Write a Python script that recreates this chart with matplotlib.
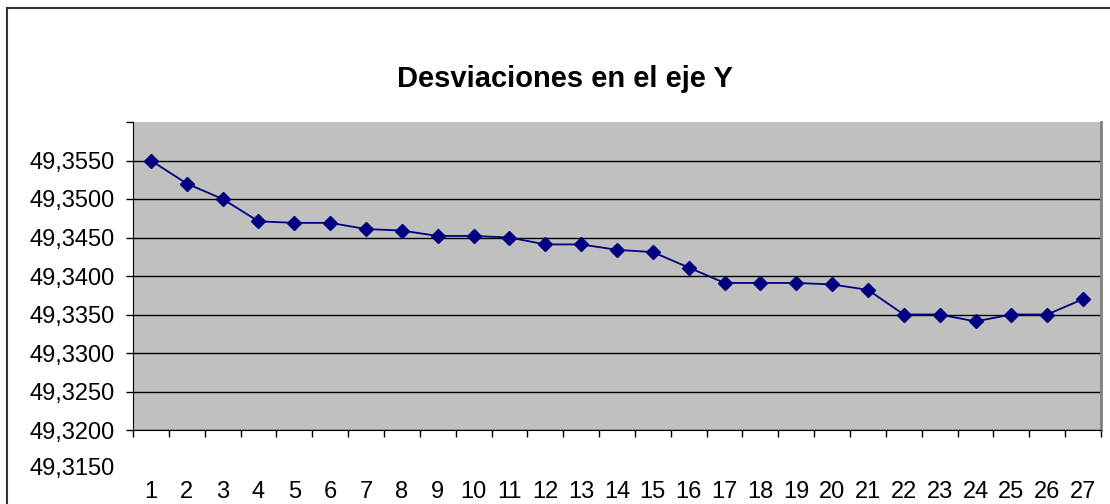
import numpy as np
import matplotlib
matplotlib.use("Agg")
import matplotlib.pyplot as plt
from matplotlib.patches import Rectangle

plt.rcParams['font.family'] = ['Liberation Sans', 'DejaVu Sans']

# data
puntos = list(range(1, 28))
desv_y = [49.3550, 49.3520, 49.3500, 49.3471, 49.3469, 49.3469, 49.3461, 49.3459,
          49.3452, 49.3452, 49.3450, 49.3441, 49.3441, 49.3434, 49.3431, 49.3411,
          49.3391, 49.3391, 49.3391, 49.3389, 49.3382, 49.3350, 49.3350, 49.3341,
          49.3350, 49.3350, 49.3370]
yticks = [49.320, 49.325, 49.330, 49.335, 49.340, 49.345, 49.350, 49.355]
ylabels = ['49,3200', '49,3250', '49,3300', '49,3350', '49,3400', '49,3450', '49,3500', '49,3550']

fig = plt.figure(figsize=(11.1, 5.04), dpi=100)
fig.patches.append(Rectangle((7/1110, -0.1), 1.2, 1 - 8/504 + 0.1,
                             transform=fig.transFigure, fill=False,
                             edgecolor='#333333', lw=1.5))

ax = fig.add_axes([133/1110, 1 - 430/504, 968/1110, 308/504])
ax.set_facecolor('#c0c0c0')

ax.set_ylim(49.320, 49.360)
ax.set_yticks(yticks)
ax.set_yticklabels(ylabels)
ax.set_yticks([49.360], minor=True)
ax.yaxis.grid(True, which='major', color='black', lw=1)
ax.set_axisbelow(True)
ax.tick_params(axis='y', which='both', length=5, width=1, pad=8, labelsize=17)
ax.annotate('49,3150', xy=(0, 49.315), xycoords=('axes fraction', 'data'),
            xytext=(-13, 0), textcoords='offset points', ha='right', va='center',
            fontsize=17, annotation_clip=False)

ax.set_xlim(0.5, 27.5)
ax.set_xticks(puntos)
ax.set_xticklabels([str(p) for p in puntos])
ax.set_xticks(np.arange(0.5, 28, 1), minor=True)
ax.tick_params(axis='x', which='major', length=0, pad=37, labelsize=17)
ax.tick_params(axis='x', which='minor', length=5, width=1)

for s in ['left', 'bottom']:
    ax.spines[s].set_color('black')
ax.spines['right'].set_color('#808080')
ax.spines['right'].set_linewidth(2)
ax.spines['top'].set_visible(False)

ax.plot(puntos, desv_y, color='#000080', lw=1.3, marker='D', ms=7.5)

fig.text(565/1110, 1 - 79/504, 'Desviaciones en el eje Y', ha='center', va='center',
         fontsize=21, fontweight='bold')

fig.savefig('out.png', dpi=100)
